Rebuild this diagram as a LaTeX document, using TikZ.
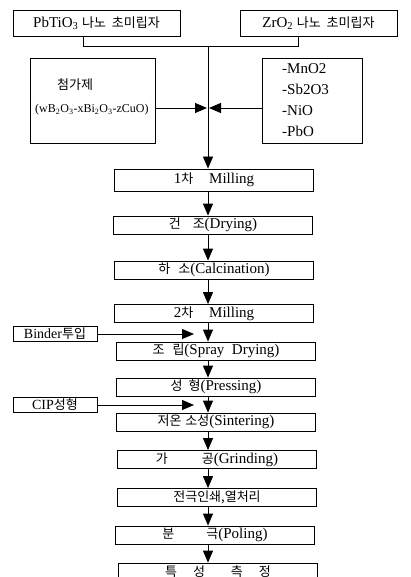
\documentclass[tikz,border=0pt]{standalone}
\usepackage{fontspec}
\setmainfont{Liberation Serif}
\newfontfamily\krfont{Noto Sans CJK KR}
\newcommand{\kr}[1]{{\krfont\fontsize{13}{15}\selectfont #1}}
\usetikzlibrary{arrows.meta}

\begin{document}
\begin{tikzpicture}[
                x=1pt, y=-1pt,
                every node/.style={font=\fontsize{15}{17}\selectfont, inner sep=0pt},
                stepbox/.style={rectangle, draw, line width=0.8pt,
                    minimum width=199pt, minimum height=18pt},
                srcbox/.style={rectangle, draw, line width=0.8pt,
                    minimum height=26pt},
                panel/.style={rectangle, draw, line width=0.8pt,
                    minimum height=85pt},
                feedbox/.style={rectangle, draw, line width=0.8pt,
                    minimum width=84pt, minimum height=15pt,
                    font=\fontsize{14}{16}\selectfont},
                arrow/.style={-{Triangle[length=12pt, width=10pt]}, line width=0.8pt},
                feed/.style={line width=0.8pt},
            ]
            \useasboundingbox (0,0) rectangle (410,577);

            % Nodes
            \node[srcbox, minimum width=167pt] (pbt) at (96.5,23) {PbTiO\textsubscript{3} \kr{나노\ \ 초미립자}};
            \node[srcbox, minimum width=157pt] (zro) at (318.5,23) {ZrO\textsubscript{2} \kr{나노\ \ 초미립자}};

            \node[panel, minimum width=125pt] (add) at (92.5,100.5) {};
            \node[anchor=west, align=left, font=\fontsize{12}{14}\selectfont] (addtxt) at (35,97) {%
                \hspace{22pt}\kr{첨가제}\\[9pt]
                (wB\textsubscript{2}O\textsubscript{3}-xBi\textsubscript{2}O\textsubscript{3}-zCuO)};
            \node[panel, minimum width=100pt] (mod) at (312,100.5) {};
            \node[anchor=west, align=left, font=\fontsize{15}{21}\selectfont] (modtxt) at (282,100.5) {%
                -MnO2\\-Sb2O3\\-NiO\\-PbO};

            \node[stepbox, minimum height=22pt] (mill1) at (214,180) {1\kr{차}\hspace{16pt}Milling};
            \node[stepbox] (dry) at (213,225) {\kr{건}\hspace{12pt}\kr{조}(Drying)};
            \node[stepbox] (calc) at (214,270) {\kr{하}\hspace{8pt}\kr{소}(Calcination)};
            \node[stepbox] (mill2) at (214,313.5) {2\kr{차}\hspace{16pt}Milling};
            \node[stepbox] (spray) at (216,351) {\kr{조}\hspace{8pt}\kr{립}(Spray\ \ Drying)};
            \node[stepbox] (press) at (216,387) {\kr{성}\hspace{6pt}\kr{형}(Pressing)};
            \node[stepbox] (sinter) at (216,422) {\kr{저온}\ \kr{소성}(Sintering)};
            \node[stepbox] (grind) at (217,459.5) {\kr{가}\hspace{34pt}\kr{공}(Grinding)};
            \node[stepbox] (elec) at (217,497.5) {\kr{전극인쇄,열처리}};
            \node[stepbox] (pole) at (215,535) {\kr{분}\hspace{32pt}\kr{극}(Poling)};
            \node[stepbox] (meas) at (218,572) {\kr{특\hspace{16pt}성\hspace{26pt}측\hspace{16pt}정}};

            \node[feedbox] (binder) at (55,334) {Binder\kr{투입}};
            \node[feedbox] (cip) at (55,405) {CIP\kr{성형}};

            % Junctions
            \coordinate (spine) at (208,0);
            \coordinate (tapL) at (83,46);
            \coordinate (tapR) at (298,46);
            \coordinate (join) at (208,108);
            \coordinate (stop) at (194,0);

            % Arrows
            \draw[feed] (pbt.south -| tapL) -- (tapL) -- (tapR) -- (zro.south -| tapR);
            \draw[arrow] (tapL -| spine) -- (mill1.north -| spine);
            \draw[arrow] (add.east |- join) -- ([xshift=-1pt]join);
            \draw[arrow] (mod.west |- join) -- ([xshift=1pt]join);
            \draw[arrow] (mill1.south -| spine) -- (dry.north -| spine);
            \draw[arrow] (dry.south -| spine) -- (calc.north -| spine);
            \draw[arrow] (calc.south -| spine) -- (mill2.north -| spine);
            \draw[arrow] (mill2.south -| spine) -- (spray.north -| spine);
            \draw[arrow] (spray.south -| spine) -- (press.north -| spine);
            \draw[arrow] (press.south -| spine) -- (sinter.north -| spine);
            \draw[arrow] (sinter.south -| spine) -- (grind.north -| spine);
            \draw[arrow] (grind.south -| spine) -- (elec.north -| spine);
            \draw[arrow] (elec.south -| spine) -- (pole.north -| spine);
            \draw[arrow] (pole.south -| spine) -- (meas.north -| spine);

            % Side feeds
            \draw[arrow] (binder.east) -- (binder.east -| stop);
            \draw[arrow] (cip.east) -- (cip.east -| stop);

            \end{tikzpicture}
\end{document}
